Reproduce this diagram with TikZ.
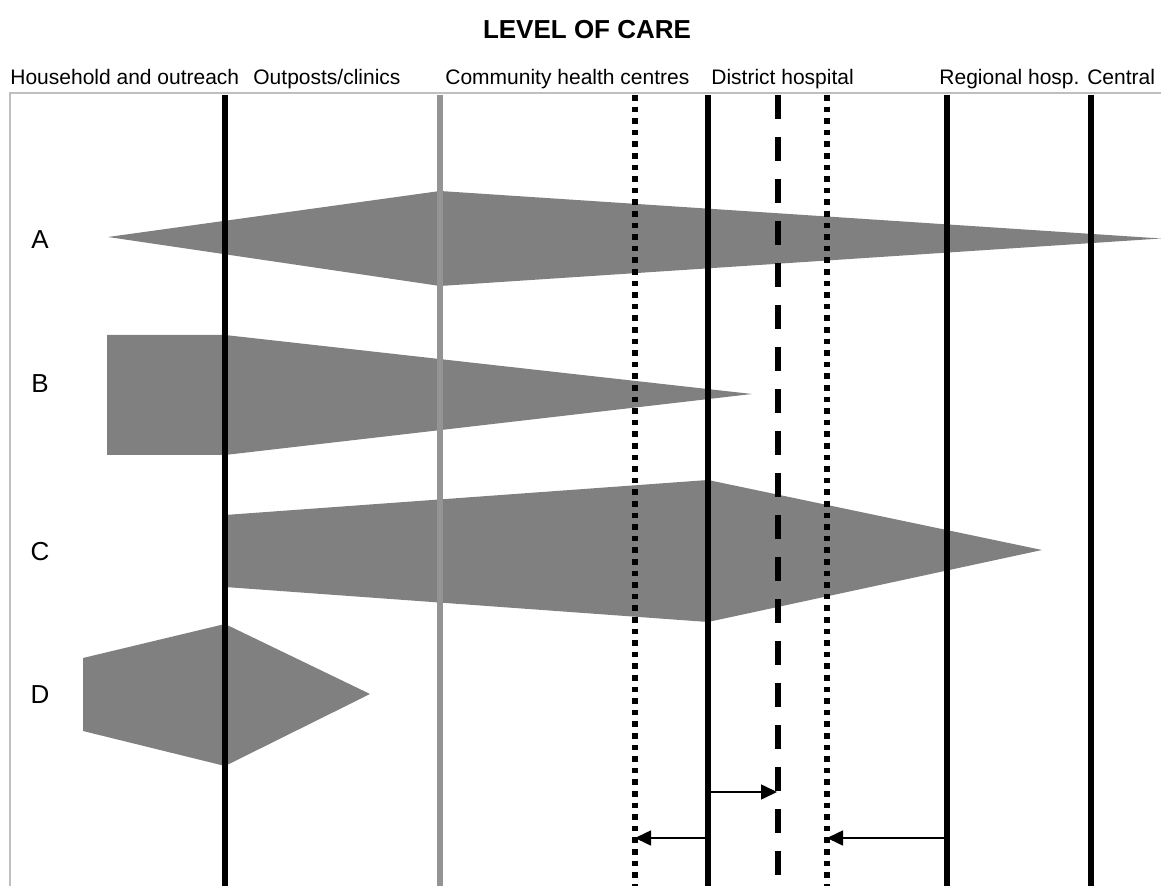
\documentclass[tikz,border=0pt]{standalone}
\usepackage{fontspec}
\setmainfont{Liberation Sans}
\usetikzlibrary{arrows.meta}

\tikzset{
  band/.style={fill=black!50},
  tier/.style={line width=3pt},
  dotline/.style={line width=3pt, dash pattern=on 2.8pt off 3pt},
  dashline/.style={line width=3pt, dash pattern=on 12pt off 9pt},
  shift arrow/.style={line width=0.8pt, -{Triangle[length=8pt,width=7.5pt]}},
  head/.style={font=\fontsize{10.5}{12}\selectfont, inner sep=0pt, anchor=base west},
  rowlabel/.style={font=\fontsize{13}{15}\selectfont, inner sep=0pt}
}

\begin{document}
\begin{tikzpicture}[x=0.5pt,y=-0.5pt]
    \useasboundingbox (0,0) rectangle (1161,886);
    % Title
    \node[font=\fontsize{13}{15}\selectfont\bfseries] (title) at (587,30) {LEVEL OF CARE};
    % Level headings
    \node[head] (hh) at (10,85) {Household and outreach};
    \node[head] (op) at (253,85) {Outposts/clinics};
    \node[head] (chc) at (445,85) {Community health centres};
    \node[head] (dh) at (711,85) {District hospital};
    \node[head] (rh) at (939,85) {Regional hosp. Central};
    % Frame
    \draw[black!25, line width=0.8pt] (10,886) -- (10,93) -- (1161,93);
    % Bands
    \fill[band] (108,237) -- (440,191) -- (1161,238.5) -- (440,286) -- cycle;
    \fill[band] (107,335) -- (225,335) -- (752,394) -- (225,455) -- (107,455) -- cycle;
    \fill[band] (225,515) -- (708,480) -- (1042,550) -- (708,622) -- (225,587) -- cycle;
    \fill[band] (83,658) -- (225,624) -- (370,694) -- (225,766) -- (83,731) -- cycle;
    % Row labels
    \node[rowlabel] (rA) at (40,240) {A};
    \node[rowlabel] (rB) at (40,384) {B};
    \node[rowlabel] (rC) at (40,552) {C};
    \node[rowlabel] (rD) at (40,695) {D};
    % Level lines
    \draw[tier] (225,95) -- (225,886);
    \draw[tier, black!42] (440,95) -- (440,886);
    \draw[dotline] (635,95) -- (635,886);
    \draw[tier] (708,95) -- (708,886);
    \draw[dashline] (778,95) -- (778,886);
    \draw[dotline] (827,95) -- (827,886);
    \draw[tier] (947,95) -- (947,886);
    \draw[tier] (1091,95) -- (1091,886);
    % Shifts between levels
    \coordinate (dhA) at (708,792);
    \coordinate (newA) at (777,792);
    \coordinate (dhB) at (708,838);
    \coordinate (chcB) at (635,838);
    \coordinate (rhB) at (947,838);
    \coordinate (dhC) at (827,838);
    \draw[shift arrow] (dhA) -- (newA);
    \draw[shift arrow] (dhB) -- (chcB);
    \draw[shift arrow] (rhB) -- (dhC);
\end{tikzpicture}
\end{document}
